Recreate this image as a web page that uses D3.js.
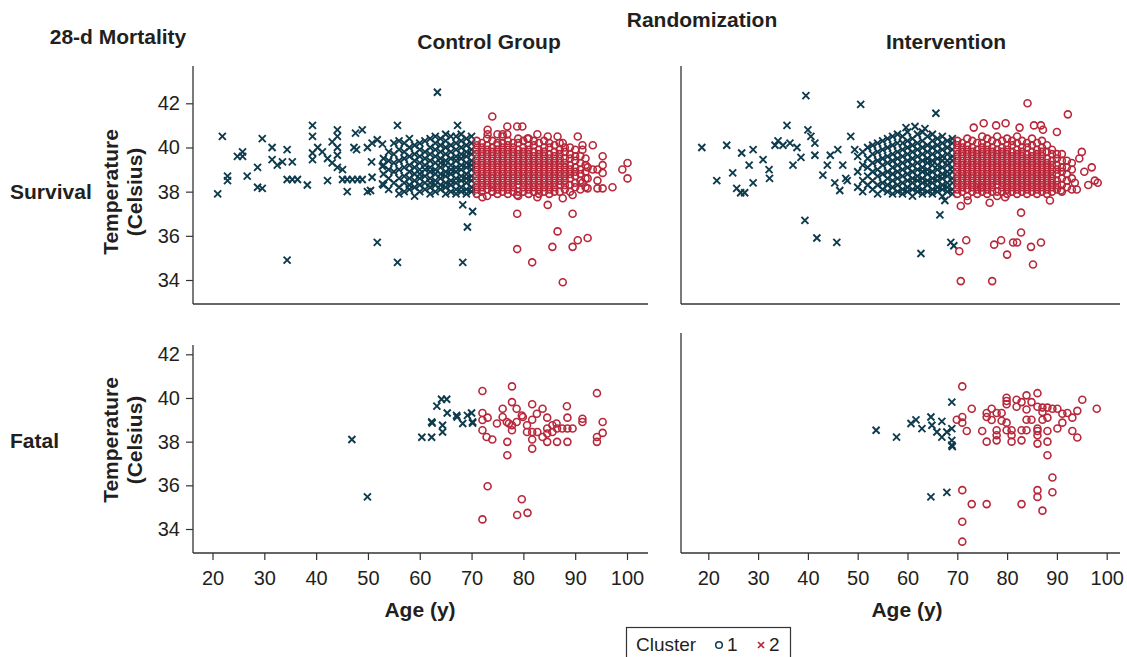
<!DOCTYPE html>
<html lang="en">
<head>
<meta charset="UTF-8">
<title>28-d Mortality by Cluster</title>
<script src="https://cdnjs.cloudflare.com/ajax/libs/d3/7.8.5/d3.min.js"></script>
<style>
    body { margin: 0; background: #fff; }
    svg text { font-family: "Liberation Sans", Arial, Helvetica, sans-serif; fill: #231f20; }
    .bold { font-weight: bold; font-size: 21px; }
</style>
</head>
<body>
<svg id="chart" width="1127" height="657"></svg>
<script>
// ---- data: [age, temperature] pairs, rows are [age, [temps]] ----
const xTicks = [20, 30, 40, 50, 60, 70, 80, 90, 100];
const yTicks = [34, 36, 38, 40, 42];

// Control group, survival, cluster 2 (x)
const ctrlSurvC2Sparse = [
    [21.9,40.5],[21.0,37.9],[22.9,38.7],[22.9,38.5],[24.8,39.6],[25.8,39.8],[25.8,39.6],[26.7,38.7],
    [28.7,39.1],[28.7,38.2],[29.6,40.4],[29.6,38.15],[31.5,40.0],[31.5,39.45],[32.5,39.2],[33.5,39.35],
    [34.4,39.9],[34.4,38.55],[35.4,39.35],[35.4,38.55],[36.4,38.55],[38.3,38.3],[34.4,34.9],[39.3,41.0],
    [39.3,40.5],[39.3,39.75],[39.3,39.45],[40.3,40.0],[41.2,39.8],[42.2,39.5],[42.2,38.5],[43.1,40.25],
    [43.1,39.3],[44.1,40.8],[44.1,40.5],[44.1,40.0],[44.1,39.65],[44.1,39.1],[45.1,39.0],[45.1,38.55],
    [46.0,38.55],[46.0,38.0],[47.0,38.55],[48.0,38.55],[47.6,40.65],[47.3,40.0],[47.8,39.9],[48.9,40.8],
    [48.9,38.55],[49.9,40.0],[49.9,38.0],[50.5,38.05],[50.7,39.35],[50.8,40.2],[50.8,38.65],[51.8,40.35],
    [51.8,35.7],[52.8,40.15],[52.8,39.15],[52.8,38.35],[55.7,41.0],[55.7,34.8],[63.4,42.5],[67.3,41.0],
    [68.3,37.4],[70.2,37.1],[69.2,36.4],[68.3,34.8]
];
const ctrlSurvC2Rows = [
    [53,[38.3,38.8,39.2,39.5]],
    [54,[38.1,38.6,39.0,39.4,39.8]],
    [55,[38.4,38.9,39.3,39.7,40.2]],
    [56,[37.9,38.2,38.6,39.0,39.4,39.9,40.3]],
    [57,[38.0,38.4,38.7,39.1,39.5,39.8,40.2]],
    [58,[38.1,38.3,38.6,38.9,39.2,39.6,40.0,40.4]],
    [59,[37.8,38.2,38.5,38.8,39.1,39.4,39.7,40.1]],
    [60,[38.0,38.3,38.6,38.8,39.0,39.3,39.6,39.9,40.2]],
    [61,[38.1,38.4,38.7,39.0,39.2,39.5,39.8,40.3]],
    [62,[37.9,38.2,38.4,38.6,38.9,39.1,39.4,39.7,40.0,40.4]],
    [63,[38.0,38.3,38.5,38.8,39.0,39.3,39.6,39.9,40.2,40.5]],
    [64,[38.1,38.3,38.6,38.8,39.1,39.3,39.5,39.8,40.1,40.4]],
    [65,[37.9,38.2,38.4,38.7,38.9,39.2,39.4,39.7,40.0,40.3,40.6]],
    [66,[38.0,38.3,38.5,38.8,39.0,39.2,39.5,39.8,40.1,40.5]],
    [67,[37.9,38.1,38.4,38.6,38.9,39.1,39.4,39.6,39.9,40.2,40.5]],
    [68,[38.0,38.2,38.5,38.7,39.0,39.2,39.5,39.7,40.0,40.3,40.6]],
    [69,[37.9,38.1,38.4,38.6,38.8,39.1,39.3,39.6,39.8,40.1,40.4]],
    [70,[38.0,38.2,38.5,38.7,39.0,39.2,39.4,39.7,39.9,40.2,40.5]]
];

// Control group, survival, cluster 1 (o)
const ctrlSurvC1Sparse = [
    [74.0,41.4],[73.1,40.8],[73.1,40.6],[75.0,40.6],[76.0,40.6],[76.9,40.95],[76.9,40.6],[78.8,40.95],
    [79.8,40.95],[80.8,40.4],[82.7,40.6],[84.7,40.5],[86.6,40.5],[87.6,40.2],[90.5,40.5],[91.4,40.1],
    [91.4,39.9],[93.4,40.1],[95.3,39.6],[95.3,39.2],[95.3,38.85],[94.3,39.0],[93.4,39.0],[92.4,39.1],
    [92.4,38.6],[94.3,38.5],[95.3,38.15],[94.3,38.15],[97.2,38.2],[99.1,39.0],[100.1,39.3],[100.1,38.6],
    [91.4,38.4],[92.4,38.15],[72.1,37.75],[74.0,38.0],[78.8,37.85],[82.7,37.75],[84.7,37.4],[87.6,37.7],
    [89.5,37.85],[89.5,37.0],[78.8,37.0],[86.6,36.2],[85.6,35.5],[78.8,35.4],[81.7,34.8],[89.5,35.5],
    [90.5,35.8],[92.4,35.9],[87.6,33.9]
];
const ctrlSurvC1Rows = [
    [71,[37.9,38.1,38.3,38.5,38.7,38.9,39.1,39.3,39.5,39.7,39.9,40.1,40.3]],
    [72,[38.0,38.2,38.4,38.6,38.8,39.0,39.2,39.4,39.6,39.8,40.0,40.2]],
    [73,[37.8,38.1,38.3,38.5,38.7,38.9,39.1,39.3,39.5,39.7,39.9,40.1,40.4]],
    [74,[38.0,38.2,38.4,38.6,38.8,39.0,39.2,39.4,39.6,39.8,40.0,40.3]],
    [75,[37.9,38.1,38.3,38.5,38.7,38.9,39.1,39.3,39.5,39.7,39.9,40.1,40.2]],
    [76,[38.0,38.2,38.4,38.6,38.8,39.0,39.2,39.4,39.6,39.8,40.0,40.2,40.5]],
    [77,[37.9,38.1,38.3,38.5,38.7,38.9,39.1,39.3,39.5,39.7,39.9,40.1,40.3]],
    [78,[38.0,38.2,38.4,38.6,38.8,39.0,39.2,39.4,39.6,39.8,40.0,40.2]],
    [79,[37.8,38.0,38.3,38.5,38.7,38.9,39.1,39.3,39.5,39.7,39.9,40.2,40.4]],
    [80,[38.0,38.2,38.4,38.6,38.8,39.0,39.2,39.4,39.6,39.8,40.0,40.3]],
    [81,[37.9,38.1,38.3,38.5,38.7,38.9,39.1,39.3,39.5,39.7,39.9,40.1,40.4]],
    [82,[38.0,38.2,38.4,38.6,38.8,39.0,39.2,39.4,39.6,39.8,40.1,40.3]],
    [83,[37.9,38.1,38.3,38.5,38.7,38.9,39.1,39.3,39.5,39.7,39.9,40.2]],
    [84,[38.0,38.2,38.4,38.6,38.8,39.0,39.2,39.4,39.6,39.8,40.0,40.3]],
    [85,[37.9,38.1,38.3,38.5,38.7,38.9,39.1,39.3,39.5,39.7,40.0,40.2]],
    [86,[38.0,38.2,38.4,38.6,38.8,39.0,39.2,39.4,39.6,39.8,40.1]],
    [87,[38.0,38.3,38.5,38.7,38.9,39.1,39.3,39.5,39.7,39.9,40.2]],
    [88,[38.1,38.3,38.5,38.7,38.9,39.1,39.3,39.5,39.8,40.0]],
    [89,[38.0,38.3,38.6,38.8,39.0,39.2,39.5,39.7,40.0]],
    [90,[38.2,38.4,38.7,38.9,39.1,39.4,39.6,39.9]],
    [91,[38.1,38.5,38.8,39.0,39.3,39.6]],
    [92,[38.2,38.6,38.9,39.2,39.5]]
];

// Intervention, survival, cluster 2 (x)
const intSurvC2Sparse = [
    [18.7,40.0],[21.7,38.5],[23.7,40.1],[24.9,38.85],[25.7,38.15],[26.5,37.95],[27.3,37.95],[26.7,39.75],
    [28.2,39.2],[29.0,39.9],[29.0,38.4],[31.0,39.45],[32.2,39.0],[32.3,38.6],[33.4,40.1],[34.0,40.3],
    [35.8,41.0],[35.0,40.1],[36.4,40.2],[37.8,40.0],[38.6,39.55],[37.0,39.2],[39.6,42.35],[40.0,40.8],
    [40.6,40.5],[41.4,40.2],[41.4,39.65],[39.4,36.7],[41.8,35.9],[45.8,35.7],[50.6,41.95],[43.0,38.75],
    [43.9,39.2],[45.4,38.4],[44.5,39.65],[46.0,39.9],[47.0,39.2],[48.6,40.5],[49.4,39.9],[47.9,38.5],
    [46.4,38.05],[47.6,38.6],[62.7,35.2],[66.5,36.95],[67.5,37.6],[68.7,35.7],[69.3,35.55],[65.7,41.55],
    [59.7,40.9],[61.5,40.95],[63.5,40.85]
];
const intSurvC2Rows = [
    [50,[38.2,38.9,39.6]],
    [51,[38.0,38.5,39.2,39.8]],
    [52,[38.3,38.7,39.1,39.5,40.0]],
    [53,[38.1,38.5,38.9,39.3,39.7,40.1]],
    [54,[37.9,38.3,38.7,39.0,39.4,39.8,40.2]],
    [55,[38.1,38.4,38.8,39.2,39.5,39.9,40.3]],
    [56,[38.0,38.3,38.6,38.9,39.3,39.6,40.0,40.4]],
    [57,[37.9,38.2,38.5,38.8,39.1,39.4,39.7,40.1,40.5]],
    [58,[38.0,38.3,38.6,38.9,39.2,39.5,39.8,40.2,40.6]],
    [59,[37.9,38.1,38.4,38.7,39.0,39.3,39.6,39.9,40.2,40.5]],
    [60,[38.0,38.2,38.5,38.8,39.1,39.4,39.7,40.0,40.3,40.7]],
    [61,[37.8,38.1,38.4,38.6,38.9,39.2,39.5,39.8,40.1,40.4]],
    [62,[38.0,38.2,38.5,38.7,39.0,39.3,39.6,39.9,40.2,40.6]],
    [63,[37.9,38.1,38.4,38.6,38.9,39.1,39.4,39.7,40.0,40.3,40.7]],
    [64,[38.0,38.3,38.5,38.8,39.0,39.3,39.5,39.8,40.1,40.5]],
    [65,[37.9,38.1,38.4,38.6,38.9,39.2,39.4,39.7,40.0,40.3,40.6]],
    [66,[38.0,38.2,38.5,38.7,39.0,39.2,39.5,39.8,40.1,40.4]],
    [67,[37.8,38.1,38.3,38.6,38.8,39.1,39.4,39.6,39.9,40.2,40.5]],
    [68,[38.0,38.2,38.4,38.7,38.9,39.2,39.4,39.7,40.0,40.3]],
    [69,[37.9,38.1,38.4,38.6,38.9,39.1,39.4,39.6,39.9,40.2,40.4]]
];

// Intervention, survival, cluster 1 (o)
const intSurvC1Sparse = [
    [73.3,40.9],[75.3,41.1],[79.7,41.1],[84.1,42.0],[82.5,40.9],[85.4,41.0],[87.2,40.8],[90.0,40.7],
    [92.2,41.5],[77.8,41.0],[86.8,41.0],[94.5,39.5],[95.5,38.9],[96.3,38.3],[97.6,38.5],[98.2,38.4],
    [97.0,39.1],[95.0,39.8],[93.6,38.4],[94.0,38.1],[70.7,37.35],[72.1,37.6],[74.8,38.2],[76.5,37.5],
    [79.6,37.75],[82.8,37.05],[71.8,35.8],[70.4,35.3],[70.7,33.95],[77.4,35.6],[77.0,33.95],[78.8,35.8],
    [80.0,35.15],[81.2,35.7],[82.0,35.7],[84.8,35.5],[86.8,35.7],[85.2,34.7],[82.8,36.15],[88.6,37.6],
    [90.8,38.05]
];
const intSurvC1Rows = [
    [70,[37.9,38.1,38.3,38.5,38.7,38.9,39.1,39.3,39.5,39.7,39.9,40.1,40.3]],
    [71,[38.0,38.2,38.4,38.6,38.8,39.0,39.2,39.4,39.6,39.8,40.0,40.2]],
    [72,[37.8,38.1,38.3,38.5,38.7,38.9,39.1,39.3,39.5,39.7,39.9,40.1,40.4]],
    [73,[38.0,38.2,38.4,38.6,38.8,39.0,39.2,39.4,39.6,39.8,40.0,40.3]],
    [74,[37.9,38.1,38.3,38.5,38.7,38.9,39.1,39.3,39.5,39.7,39.9,40.2]],
    [75,[38.0,38.2,38.4,38.6,38.8,39.0,39.2,39.4,39.6,39.8,40.0,40.2,40.5]],
    [76,[37.9,38.1,38.3,38.5,38.7,38.9,39.1,39.3,39.5,39.7,39.9,40.1,40.4]],
    [77,[38.0,38.2,38.4,38.6,38.8,39.0,39.2,39.4,39.6,39.8,40.0,40.3]],
    [78,[37.8,38.0,38.3,38.5,38.7,38.9,39.1,39.3,39.5,39.7,39.9,40.2,40.5]],
    [79,[38.0,38.2,38.4,38.6,38.8,39.0,39.2,39.4,39.6,39.8,40.0,40.3]],
    [80,[37.9,38.1,38.3,38.5,38.7,38.9,39.1,39.3,39.5,39.7,39.9,40.1,40.4]],
    [81,[38.0,38.2,38.4,38.6,38.8,39.0,39.2,39.4,39.6,39.8,40.1,40.3]],
    [82,[37.9,38.1,38.3,38.5,38.7,38.9,39.1,39.3,39.5,39.7,39.9,40.2,40.5]],
    [83,[38.0,38.2,38.4,38.6,38.8,39.0,39.2,39.4,39.6,39.8,40.0,40.3]],
    [84,[37.9,38.1,38.3,38.5,38.7,38.9,39.1,39.3,39.5,39.7,40.0,40.2]],
    [85,[38.0,38.2,38.4,38.6,38.8,39.0,39.2,39.4,39.6,39.8,40.1,40.4]],
    [86,[37.9,38.1,38.3,38.5,38.7,38.9,39.1,39.3,39.5,39.7,39.9,40.2]],
    [87,[38.0,38.2,38.4,38.6,38.8,39.0,39.2,39.4,39.6,39.8,40.0,40.3]],
    [88,[37.9,38.1,38.3,38.5,38.7,38.9,39.1,39.3,39.5,39.8,40.1]],
    [89,[38.0,38.2,38.4,38.6,38.8,39.0,39.2,39.4,39.7,39.9]],
    [90,[38.1,38.3,38.5,38.8,39.0,39.2,39.5,39.7]],
    [91,[38.0,38.3,38.6,38.9,39.1,39.4,39.7]],
    [92,[38.2,38.5,38.8,39.1,39.4]],
    [93,[38.1,38.6,39.0,39.3]]
];

// Control group, fatal
const ctrlFatalC2 = [
    [46.9,38.1],[49.9,35.47],[60.4,38.2],[62.3,38.2],[63.3,39.63],[64.2,39.94],[65.2,39.94],[65.3,39.31],
    [62.3,38.9],[62.4,38.85],[64.4,38.75],[64.4,38.44],[67.1,39.2],[67.2,39.13],[68.3,38.83],[69.2,39.2],
    [70.0,39.31],[70.2,38.9],[70.2,38.85]
];
const ctrlFatalC1 = [
    [72.1,40.32],[77.8,40.53],[94.2,40.22],[77.8,39.81],[76.0,39.51],[78.7,39.51],[81.7,39.71],[83.7,39.51],
    [88.4,39.62],[72.1,39.31],[73.1,39.1],[72.1,38.99],[72.1,38.52],[72.9,38.21],[74.0,38.1],[74.9,38.83],
    [76.0,39.13],[76.8,38.9],[77.2,38.83],[77.8,38.75],[77.8,38.52],[78.7,38.9],[79.7,39.2],[79.9,39.13],
    [80.7,38.75],[80.7,38.44],[81.7,39.0],[82.6,39.28],[81.7,38.44],[81.7,38.1],[81.7,37.68],[82.7,38.44],
    [83.7,38.21],[84.6,39.1],[84.6,38.6],[84.6,38.37],[84.6,37.99],[85.6,38.75],[85.6,38.44],[86.4,38.83],
    [86.5,38.6],[86.5,37.99],[87.5,38.6],[88.5,38.6],[88.5,37.99],[88.5,39.1],[89.5,38.6],[91.4,39.05],
    [91.4,38.9],[95.3,38.9],[95.3,38.4],[94.2,38.21],[94.2,37.99],[76.9,37.99],[76.9,37.38],[73.1,35.96],
    [79.7,35.36],[78.8,34.64],[80.8,34.74],[72.1,34.44]
];

// Intervention, fatal
const intFatalC2 = [
    [53.7,38.52],[57.8,38.21],[60.7,38.83],[61.7,39.0],[62.9,38.6],[64.7,39.13],[64.9,38.75],[65.9,38.44],
    [66.9,38.93],[66.9,38.21],[67.9,38.44],[68.9,39.81],[68.9,38.6],[68.9,38.06],[68.9,37.84],[69.0,37.78],
    [64.7,35.47],[67.9,35.68]
];
const intFatalC1 = [
    [71.0,40.53],[72.9,39.51],[71.0,39.13],[69.9,39.0],[71.0,38.87],[71.9,38.49],[75.0,38.49],[75.9,39.31],
    [75.9,39.13],[76.9,39.51],[76.9,38.99],[77.9,39.31],[78.9,39.31],[78.9,38.96],[77.9,38.52],[77.9,38.29],
    [77.9,38.06],[75.9,38.0],[79.9,40.01],[79.9,39.86],[79.9,39.71],[79.9,38.87],[79.9,38.52],[80.9,38.52],
    [80.9,38.29],[80.9,38.0],[81.9,39.92],[81.9,39.6],[82.9,39.81],[82.9,38.52],[82.9,38.06],[83.9,40.12],
    [83.9,39.47],[83.9,39.0],[83.9,38.52],[84.9,39.81],[84.9,39.0],[86.1,40.22],[86.1,39.6],[86.1,38.6],
    [86.1,38.49],[86.1,38.29],[86.1,37.91],[87.1,39.56],[87.1,39.36],[87.1,39.0],[88.1,39.56],[88.1,39.1],
    [88.1,38.49],[88.1,38.0],[88.1,37.38],[89.1,39.51],[90.1,39.51],[90.1,38.6],[91.1,39.28],[91.1,38.87],
    [92.1,39.31],[93.1,39.1],[93.1,38.49],[94.1,39.41],[94.1,38.19],[95.1,39.92],[98.0,39.51],
    [71.0,35.78],[72.9,35.14],[75.9,35.14],[82.9,35.14],[86.1,35.78],[86.1,35.47],[89.1,36.36],[89.1,35.68],
    [87.1,34.84],[71.0,34.33],[71.0,33.42]
];

const flat = rows => rows.flatMap(([a, ts]) => ts.map(t => [a, t]));

const TEAL = "#0e3b4d", RED = "#b8273a", INK = "#231f20";
const CROSS = "M-3.5,-3.5L3.5,3.5M-3.5,3.5L3.5,-3.5";

const svg = d3.select("#chart");

// scales
const xLeft = d3.scaleLinear().domain([20, 100]).range([212.5, 627]);
const xRight = d3.scaleLinear().domain([20, 100]).range([708.3, 1106.7]);
const yTop = d3.scaleLinear().domain([34, 42]).range([280, 103.3]);
const yBot = d3.scaleLinear().domain([34, 42]).range([529, 354.3]);

const panels = [
    { x: xLeft, y: yTop, xl: [193, 648], yl: [66, 304], yAxis: true, xAxis: false,
      c2: ctrlSurvC2Sparse.concat(flat(ctrlSurvC2Rows)), c1: flat(ctrlSurvC1Rows).concat(ctrlSurvC1Sparse) },
    { x: xRight, y: yTop, xl: [681, 1120], yl: [66, 304], yAxis: false, xAxis: false,
      c2: intSurvC2Sparse.concat(flat(intSurvC2Rows)), c1: flat(intSurvC1Rows).concat(intSurvC1Sparse) },
    { x: xLeft, y: yBot, xl: [193, 648], yl: [345, 553], yAxis: true, xAxis: true,
      c2: ctrlFatalC2, c1: ctrlFatalC1 },
    { x: xRight, y: yBot, xl: [681, 1120], yl: [333, 553], yAxis: false, xAxis: true,
      c2: intFatalC2, c1: intFatalC1 }
];

panels.forEach(p => {
    const g = svg.append("g");

    // axis lines
    g.append("line")
        .attr("x1", p.xl[0]).attr("x2", p.xl[0])
        .attr("y1", p.yl[0]).attr("y2", p.yl[1])
        .attr("stroke", "#333").attr("stroke-width", 1.3);
    g.append("line")
        .attr("x1", p.xl[0]).attr("x2", p.xl[1])
        .attr("y1", p.yl[1]).attr("y2", p.yl[1])
        .attr("stroke", "#333").attr("stroke-width", 1.3);

    if (p.yAxis) {
        const ax = g.append("g")
            .attr("transform", `translate(${p.xl[0]},0)`)
            .call(d3.axisLeft(p.y).tickValues(yTicks).tickSize(7).tickPadding(6).tickSizeOuter(0));
        ax.select(".domain").remove();
        ax.selectAll(".tick line").attr("stroke", "#333").attr("stroke-width", 1.2);
        ax.selectAll(".tick text").attr("fill", INK).style("font-size", "20px");
    }
    if (p.xAxis) {
        const ax = g.append("g")
            .attr("transform", `translate(0,${p.yl[1]})`)
            .call(d3.axisBottom(p.x).tickValues(xTicks).tickSize(7).tickPadding(11).tickSizeOuter(0));
        ax.select(".domain").remove();
        ax.selectAll(".tick line").attr("stroke", "#333").attr("stroke-width", 1.2);
        ax.selectAll(".tick text").attr("fill", INK).style("font-size", "20px");
    }

    // cluster 2 crosses
    g.append("g").selectAll("path")
        .data(p.c2)
        .join("path")
        .attr("transform", d => `translate(${p.x(d[0])},${p.y(d[1])})`)
        .attr("d", CROSS)
        .attr("stroke", TEAL)
        .attr("stroke-width", 1.9)
        .attr("fill", "none");

    // cluster 1 circles
    g.append("g").selectAll("circle")
        .data(p.c1)
        .join("circle")
        .attr("cx", d => p.x(d[0]))
        .attr("cy", d => p.y(d[1]))
        .attr("r", 3.5)
        .attr("stroke", RED)
        .attr("stroke-width", 1.6)
        .attr("fill", "none");
});

// titles and labels
const label = (txt, x, y, anchor, cls, extra) => {
    const t = svg.append("text").attr("x", x).attr("y", y)
        .attr("text-anchor", anchor).attr("class", cls).text(txt);
    if (extra) t.attr("transform", extra);
    return t;
};
label("28-d Mortality", 118, 44, "middle", "bold");
label("Randomization", 702, 27, "middle", "bold");
label("Control Group", 489, 49, "middle", "bold");
label("Intervention", 946, 49, "middle", "bold");
label("Survival", 10, 199, "start", "bold");
label("Fatal", 10, 448, "start", "bold");
label("Age (y)", 420, 617, "middle", "bold");
label("Age (y)", 907, 617, "middle", "bold");

[192, 440].forEach(cy => {
    label("Temperature", 0, 0, "middle", "bold", `translate(118,${cy}) rotate(-90)`);
    label("(Celsius)", 0, 0, "middle", "bold", `translate(142,${cy}) rotate(-90)`);
});

// legend
const lg = svg.append("g");
lg.append("rect").attr("x", 626.5).attr("y", 627.5).attr("width", 164).attr("height", 40)
    .attr("fill", "#fff").attr("stroke", "#333").attr("stroke-width", 1.2);
lg.append("text").attr("x", 636).attr("y", 651).style("font-size", "19px").text("Cluster");
lg.append("circle").attr("cx", 719).attr("cy", 645).attr("r", 3.3)
    .attr("fill", "none").attr("stroke", TEAL).attr("stroke-width", 1.5);
lg.append("text").attr("x", 727).attr("y", 651).style("font-size", "19px").text("1");
lg.append("path").attr("transform", "translate(761,645)").attr("d", "M-3,-3L3,3M-3,3L3,-3")
    .attr("stroke", RED).attr("stroke-width", 1.7);
lg.append("text").attr("x", 769).attr("y", 651).style("font-size", "19px").text("2");
</script>
</body>
</html>
